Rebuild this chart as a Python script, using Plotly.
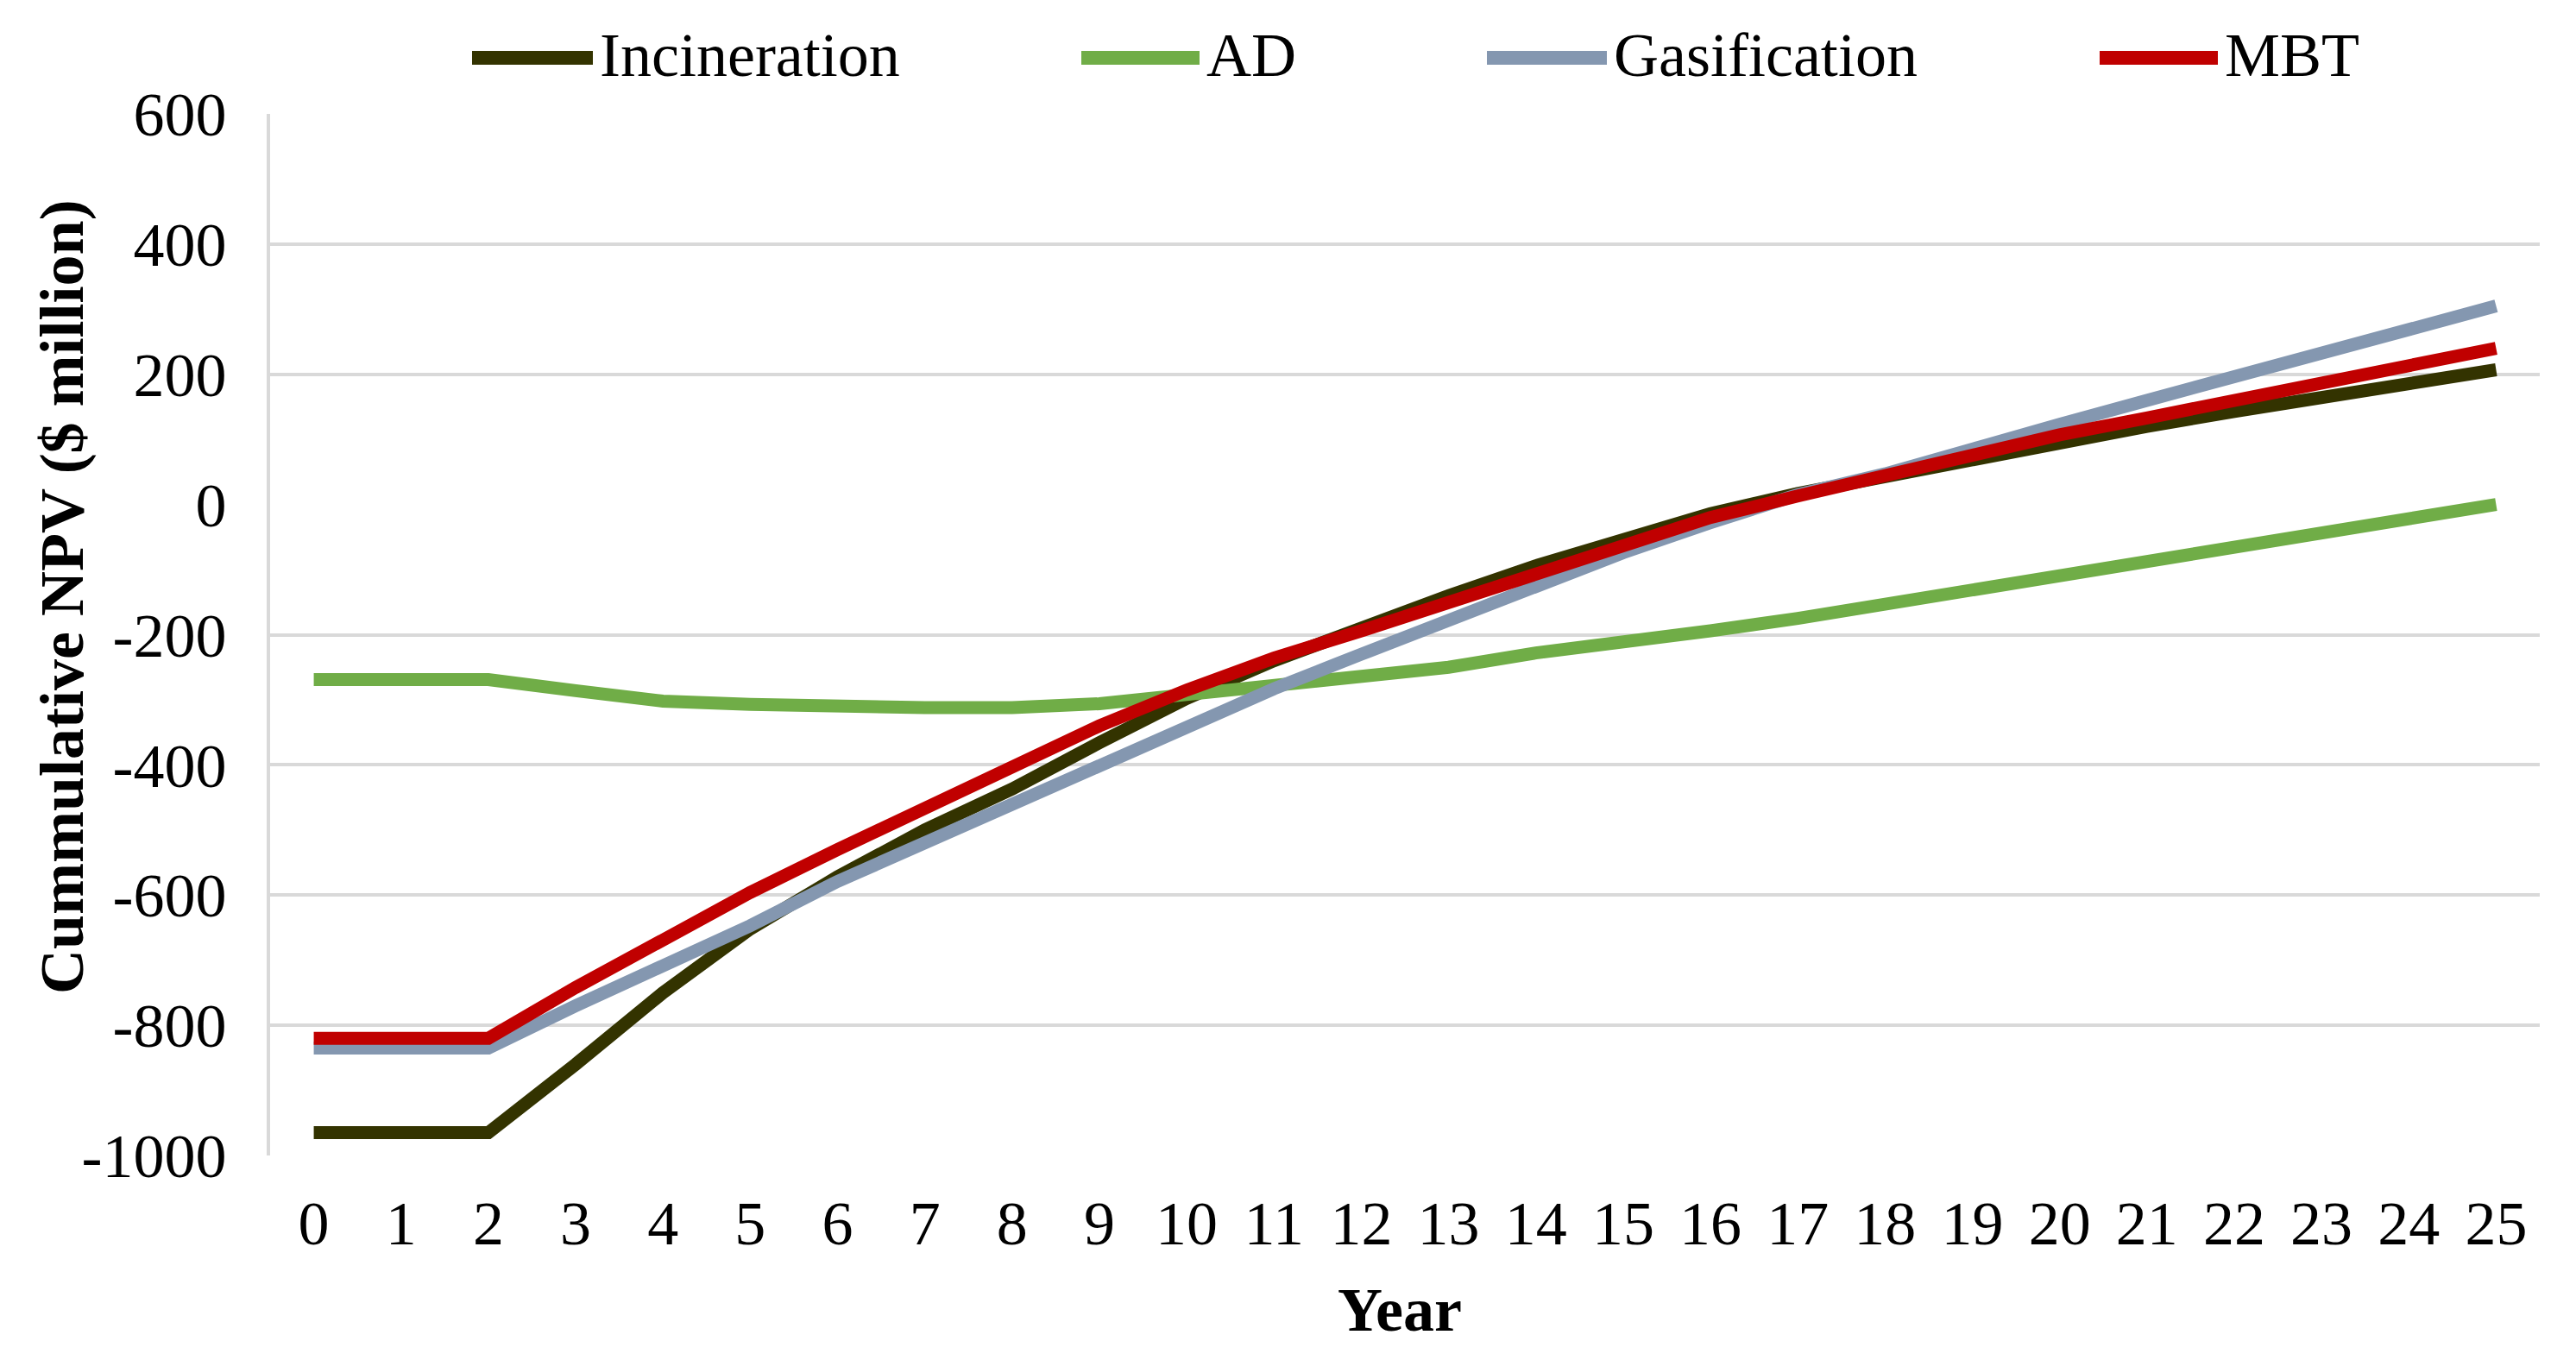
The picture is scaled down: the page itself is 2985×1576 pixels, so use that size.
import plotly.graph_objects as go

years = list(range(26))
year_labels = [str(y) for y in years]

series_names = ["Incineration", "AD", "Gasification", "MBT"]
series_colors = ["#333300", "#70AD47", "#8497B0", "#C00000"]

incineration = [-965, -965, -965, -860, -750, -652, -572, -500, -437, -366, -298, -240,
                -188, -140, -94, -52, -14, 17, 44, 70, 95, 120, 143, 165, 186, 207]
ad = [-269, -269, -269, -286, -302, -307, -311, -312, -312, -306, -292, -279,
      -264, -250, -228, -213, -194, -175, -153, -128, -106, -84, -62, -40, -21, 0]
gasification = [-835, -835, -835, -770, -709, -647, -579, -519, -461, -404, -344, -283,
                -230, -178, -127, -74, -28, 15, 47, 87, 123, 160, 196, 232, 272, 305]
mbt = [-820, -820, -820, -742, -668, -596, -530, -465, -405, -340, -285, -236,
       -194, -150, -104, -60, -20, 13, 45, 80, 107, 133, 159, 186, 213, 240]

series_values = [incineration, ad, gasification, mbt]

y_ticks = [-1000, -800, -600, -400, -200, 0, 200, 400, 600]
y_tick_labels = ["-1000", "-800", "-600", "-400", "-200", "0", "200", "400", "600"]

FONT = "Liberation Serif, Times New Roman, serif"
OFF = 8  # default page body margin
W, H = 2985 - 2 * OFF, 1576 - 2 * OFF
# plot area in page pixels: x 313..2943, y 132..1339
ML, MT = 313 - OFF, 132 - OFF
PW, PH = 2630, 1207
MR, MB = W - ML - PW, H - MT - PH

fig = go.Figure()
for name, color, vals in zip(series_names, series_colors, series_values):
    fig.add_trace(go.Scatter(x=years, y=vals, mode="lines", name=name,
                             line=dict(color=color, width=15), showlegend=False))

def px_x(p):
    return (p - OFF - ML) / PW

def px_y(p):
    return (MT + PH - (p - OFF)) / PH

# custom legend (swatch + label)
legend_line_x = [(547, 687), (1253, 1390), (1723, 1862), (2433, 2570)]
shapes = []
annotations = []
for (x0, x1), name, color in zip(legend_line_x, series_names, series_colors):
    shapes.append(dict(type="line", xref="paper", yref="paper",
                       x0=px_x(x0), x1=px_x(x1), y0=px_y(67), y1=px_y(67),
                       line=dict(color=color, width=16)))
    annotations.append(dict(xref="paper", yref="paper", x=px_x(x1 + 6), y=px_y(64),
                            xanchor="left", yanchor="middle", text=name, showarrow=False,
                            font=dict(family=FONT, size=72, color="black")))

annotations.append(dict(xref="paper", yref="paper", x=px_x(72), y=px_y(692),
                        xanchor="center", yanchor="middle", textangle=-90,
                        text="<b>Cummulative NPV ($ million)</b>", showarrow=False,
                        font=dict(family=FONT, size=72, color="black")))
annotations.append(dict(xref="paper", yref="paper", x=px_x(1622), y=px_y(1518),
                        xanchor="center", yanchor="middle",
                        text="<b>Year</b>", showarrow=False,
                        font=dict(family=FONT, size=72, color="black")))

fig.update_layout(
    width=W, height=H,
    margin=dict(l=ML, r=MR, t=MT, b=MB, pad=0),
    paper_bgcolor="white", plot_bgcolor="white",
    font=dict(family=FONT, size=72, color="black"),
    shapes=shapes, annotations=annotations,
    showlegend=False,
)
fig.update_xaxes(range=[-0.5, 25.5], tickvals=years, ticktext=year_labels,
                 showgrid=False, zeroline=False, showline=False,
                 ticks="", ticklabelstandoff=30,
                 tickfont=dict(family=FONT, size=72, color="black"))
fig.update_yaxes(range=[-1000, 600], tickvals=y_ticks, ticktext=y_tick_labels,
                 showgrid=True, gridcolor="#D9D9D9", gridwidth=4,
                 zeroline=True, zerolinecolor="white", zerolinewidth=6,
                 showline=True, linecolor="#D9D9D9", linewidth=4,
                 ticks="", ticklabelstandoff=32,
                 tickfont=dict(family=FONT, size=72, color="black"))

fig.write_html("out.html")
